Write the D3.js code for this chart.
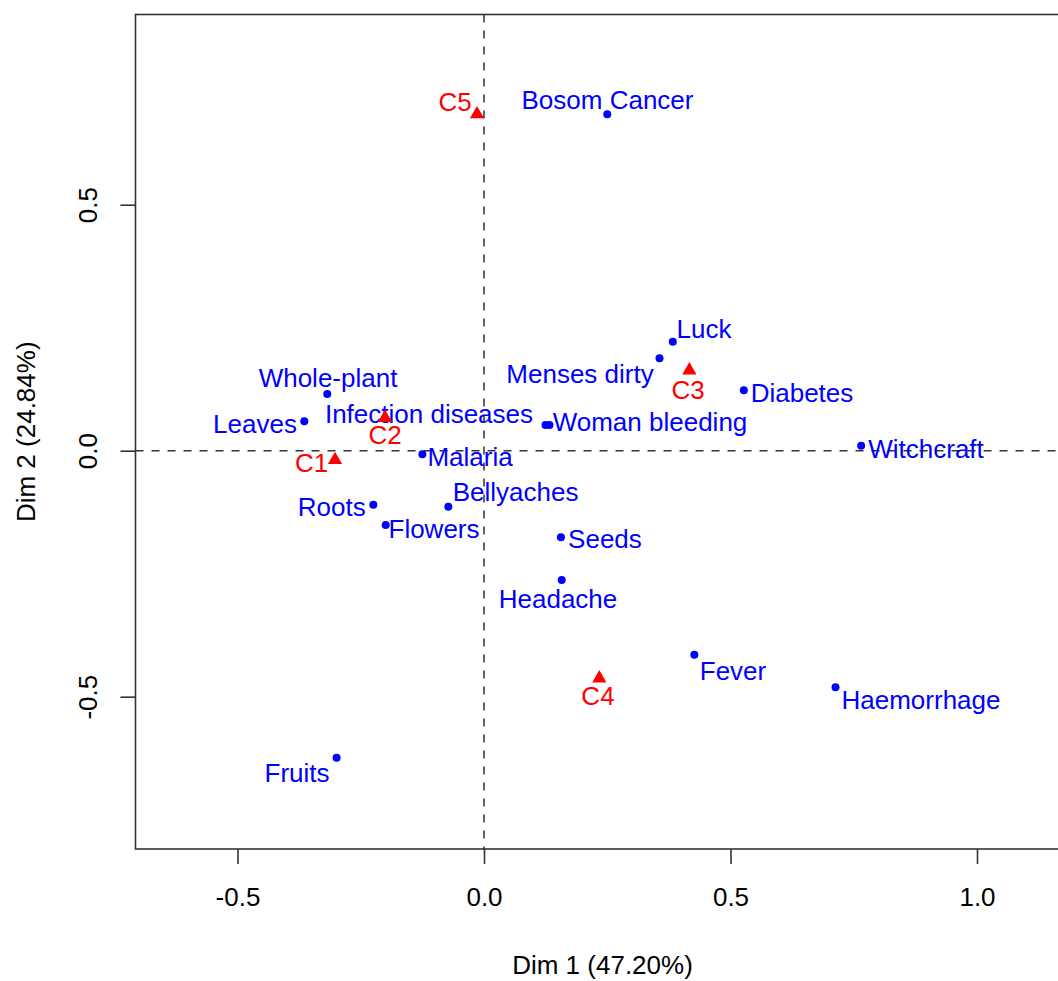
<!DOCTYPE html>
<html>
<head>
<meta charset="utf-8">
<script src="https://cdn.jsdelivr.net/npm/d3@7"></script>
<style>
  html, body { margin: 0; padding: 0; background: #fff; }
  svg { display: block; font-family: "Liberation Sans", Arial, sans-serif; }
</style>
</head>
<body>
<svg id="chart" width="1058" height="981"></svg>
<script>
// ---- data ----
const catNames = ["Bosom Cancer", "Luck", "Menses dirty", "Diabetes", "Woman bleeding", "", "Witchcraft",
  "Whole-plant", "Leaves", "Infection diseases", "Malaria", "Roots", "Bellyaches", "Flowers",
  "Seeds", "Headache", "Fever", "Haemorrhage", "Fruits"];
const catX = [0.250, 0.383, 0.356, 0.527, 0.1329, 0.1247, 0.765,
  -0.318, -0.3645, -0.2008, -0.125, -0.2245, -0.0724, -0.1994,
  0.156, 0.1576, 0.4266, 0.713, -0.299];
const catY = [0.684, 0.2216, 0.188, 0.123, 0.0522, 0.0522, 0.010,
  0.115, 0.060, 0.0644, -0.007, -0.110, -0.114, -0.151,
  -0.176, -0.263, -0.415, -0.481, -0.624];
// label anchor positions (data units, as placed by the label-repel routine)
const catLabX = [0.2505, 0.4462, 0.1947, 0.6450, 0.3367, 0, 0.8966,
  -0.3164, -0.4645, -0.1116, -0.0284, -0.3089, 0.0639, -0.1014,
  0.2454, 0.1501, 0.5051, 0.8864, -0.3793];
const catLabY = [0.7128, 0.2474, 0.1559, 0.1173, 0.0583, 0, 0.0035,
  0.1478, 0.0543, 0.0746, -0.0122, -0.1138, -0.0839, -0.1581,
  -0.1785, -0.3014, -0.4478, -0.5067, -0.6551];

const clusNames = ["C1", "C2", "C3", "C4", "C5"];
const clusX = [-0.3022, -0.2008, 0.4165, 0.2339, -0.0142];
const clusY = [-0.0189, 0.0669, 0.1634, -0.4626, 0.684];
const clusLabX = [-0.3495, -0.2008, 0.4138, 0.2312, -0.0588];
const clusLabY = [-0.0250, 0.0319, 0.1234, -0.4986, 0.7093];

const xTicks = [-0.5, 0.0, 0.5, 1.0];
const yTicks = [-0.5, 0.0, 0.5];
const xTitle = "Dim 1 (47.20%)";
const yTitle = "Dim 2 (24.84%)";

// ---- layout ----
const L = 135.5, R = 1069.5, T = 14.5, B = 849;
const x = d3.scaleLinear().domain([-0.7069, 1.1876]).range([L, R]);
const y = d3.scaleLinear().domain([-0.8096, 0.8866]).range([B, T]);

const svg = d3.select("#chart");
const FS = 26;
const fmt = d => d.toFixed(1);

// frame
svg.append("rect").attr("x", L).attr("y", T).attr("width", R - L).attr("height", B - T)
  .attr("fill", "none").attr("stroke", "#333").attr("stroke-width", 1.6);

// axes
const gx = svg.append("g").attr("transform", `translate(0,${B})`)
  .call(d3.axisBottom(x).tickValues(xTicks).tickFormat(fmt).tickSize(15).tickPadding(24));
gx.select(".domain").remove();
gx.selectAll(".tick line").attr("stroke", "#333").attr("stroke-width", 1.6);
gx.selectAll(".tick text").attr("font-size", FS).attr("font-family", "Liberation Sans, Arial, sans-serif").attr("fill", "#000");

const gy = svg.append("g").attr("transform", `translate(${L},0)`)
  .call(d3.axisLeft(y).tickValues(yTicks).tickFormat(fmt).tickSize(15));
gy.select(".domain").remove();
gy.selectAll(".tick line").attr("stroke", "#333").attr("stroke-width", 1.6);
gy.selectAll(".tick text").attr("font-size", FS).attr("font-family", "Liberation Sans, Arial, sans-serif").attr("fill", "#000")
  .attr("x", 0).attr("y", 0).attr("dy", "0.36em").attr("text-anchor", "middle")
  .attr("transform", "translate(-47.5,0) rotate(-90)");

// axis titles
svg.append("text").attr("x", (L + R) / 2).attr("y", 965).attr("dy", "0.36em")
  .attr("text-anchor", "middle").attr("font-size", FS).attr("fill", "#000").text(xTitle);
svg.append("text").attr("transform", `translate(26,${(T + B) / 2}) rotate(-90)`).attr("dy", "0.36em")
  .attr("text-anchor", "middle").attr("font-size", FS).attr("fill", "#000").text(yTitle);

// reference lines
svg.append("line").attr("x1", x(0)).attr("x2", x(0)).attr("y1", T).attr("y2", B)
  .attr("stroke", "#333").attr("stroke-width", 1.5).attr("stroke-dasharray", "8,8");
svg.append("line").attr("x1", L).attr("x2", R).attr("y1", y(0)).attr("y2", y(0))
  .attr("stroke", "#333").attr("stroke-width", 1.5).attr("stroke-dasharray", "8,8");

// categories
const cats = catNames.map((n, i) => ({ n, x: catX[i], y: catY[i], lx: catLabX[i], ly: catLabY[i] }));
svg.append("g").selectAll("circle").data(cats).join("circle")
  .attr("cx", d => x(d.x)).attr("cy", d => y(d.y)).attr("r", 4).attr("fill", "#0000FF");
svg.append("g").selectAll("text").data(cats.filter(d => d.n)).join("text")
  .attr("x", d => x(d.lx)).attr("y", d => y(d.ly)).attr("dy", "0.36em")
  .attr("text-anchor", "middle").attr("font-size", FS).attr("fill", "#0000FF").text(d => d.n);

// clusters
const clus = clusNames.map((n, i) => ({ n, x: clusX[i], y: clusY[i], lx: clusLabX[i], ly: clusLabY[i] }));
const tri = d3.symbol().type(d3.symbolTriangle).size(88);
svg.append("g").selectAll("path").data(clus).join("path")
  .attr("transform", d => `translate(${x(d.x)},${y(d.y)})`).attr("d", tri).attr("fill", "#FF0000");
svg.append("g").selectAll("text").data(clus).join("text")
  .attr("x", d => x(d.lx)).attr("y", d => y(d.ly)).attr("dy", "0.36em")
  .attr("text-anchor", "middle").attr("font-size", FS).attr("fill", "#FF0000").text(d => d.n);
</script>
</body>
</html>
